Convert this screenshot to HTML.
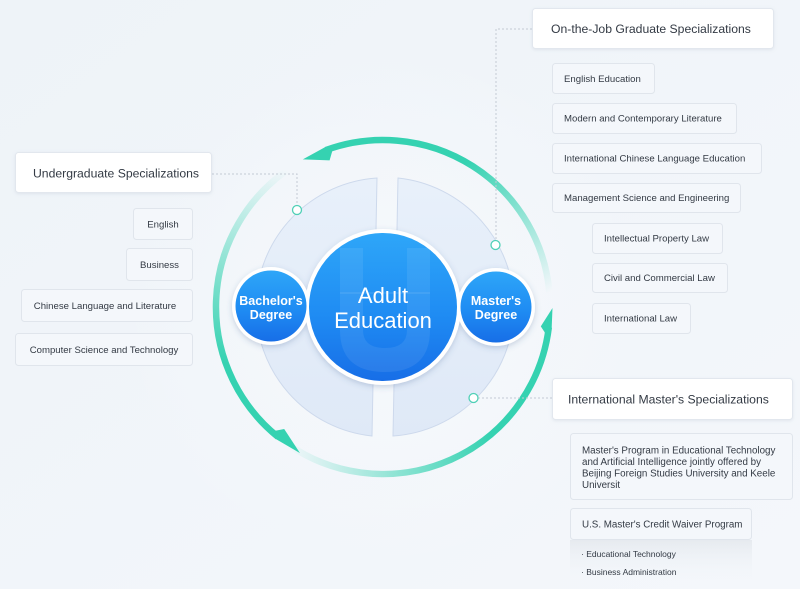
<!DOCTYPE html>
<html><head><meta charset="utf-8">
<style>
html,body{margin:0;padding:0;background:#f1f5f9;}
svg{display:block;}
text{font-family:"Liberation Sans",Arial,sans-serif;}
</style></head>
<body>
<svg width="800" height="589" viewBox="0 0 800 589" xmlns="http://www.w3.org/2000/svg">
<defs>
  <linearGradient id="bg" x1="0" y1="0" x2="1" y2="1">
    <stop offset="0" stop-color="#eef3f8"/>
    <stop offset="1" stop-color="#f4f7fb"/>
  </linearGradient>
  <radialGradient id="glow" cx="383" cy="307" r="260" gradientUnits="userSpaceOnUse">
    <stop offset="0" stop-color="#f6f9fc"/>
    <stop offset="1" stop-color="#f6f9fc" stop-opacity="0"/>
  </radialGradient>
  <linearGradient id="blue" x1="0" y1="0" x2="0" y2="1">
    <stop offset="0" stop-color="#2ea6f8"/>
    <stop offset="0.55" stop-color="#1f8cf3"/>
    <stop offset="1" stop-color="#176ee7"/>
  </linearGradient>
  <linearGradient id="seg" x1="0" y1="0" x2="0" y2="1">
    <stop offset="0" stop-color="#e8f0fa"/>
    <stop offset="1" stop-color="#dfe9f7"/>
  </linearGradient>
  <linearGradient id="gA" gradientUnits="userSpaceOnUse" x1="549.4" y1="292.4" x2="466.5" y2="162.4">
    <stop offset="0" stop-color="#35d2b1" stop-opacity="0"/>
    <stop offset="1" stop-color="#35d2b1" stop-opacity="1"/>
  </linearGradient>
  <linearGradient id="gB" gradientUnits="userSpaceOnUse" x1="287.2" y1="443.8" x2="490.3" y2="434.9">
    <stop offset="0" stop-color="#35d2b1" stop-opacity="0"/>
    <stop offset="1" stop-color="#35d2b1" stop-opacity="1"/>
  </linearGradient>
  <linearGradient id="gC" gradientUnits="userSpaceOnUse" x1="287.2" y1="170.2" x2="226" y2="364">
    <stop offset="0" stop-color="#35d2b1" stop-opacity="0"/>
    <stop offset="1" stop-color="#35d2b1" stop-opacity="1"/>
  </linearGradient>
  <linearGradient id="panel" x1="0" y1="0" x2="0" y2="1">
    <stop offset="0" stop-color="#e6eaef"/>
    <stop offset="1" stop-color="#f1f5f9" stop-opacity="0"/>
  </linearGradient>
  <filter id="sh" x="-20%" y="-30%" width="140%" height="160%">
    <feDropShadow dx="0" dy="1" stdDeviation="1.5" flood-color="#8a9ab0" flood-opacity="0.18"/>
  </filter>
  <filter id="csh" x="-30%" y="-30%" width="160%" height="160%">
    <feDropShadow dx="0" dy="2" stdDeviation="3" flood-color="#3a5f90" flood-opacity="0.25"/>
  </filter>
</defs>

<rect x="0" y="0" width="800" height="589" fill="url(#bg)"/>
<rect x="0" y="0" width="800" height="589" fill="url(#glow)"/>

<!-- ring arrows -->
<path d="M 549.4 292.4 A 167 167 0 0 0 325.9 150.1" fill="none" stroke="url(#gA)" stroke-width="6.5"/>
<polygon points="302.8,159.4 324.9,147.3 332.3,151.0 329.6,160.4" fill="#35d2b1"/>
<path d="M 287.2 443.8 A 167 167 0 0 0 548.8 327.4" fill="none" stroke="url(#gB)" stroke-width="6.5"/>
<polygon points="552.5,308 551.7,327.7 545.0,332.7 540.8,326.4" fill="#35d2b1"/>
<path d="M 287.2 170.2 A 167 167 0 0 0 277.9 436.8" fill="none" stroke="url(#gC)" stroke-width="6.5"/>
<polygon points="300,453.1 276,439.1 275.4,430.8 284.2,429" fill="#35d2b1"/>

<!-- segments -->
<path d="M 377 178 A 129.5 129.5 0 0 0 372 436 Z" fill="url(#seg)" stroke="#cdd9ec" stroke-width="1"/>
<path d="M 398 178 A 129.5 129.5 0 0 1 393 436 Z" fill="url(#seg)" stroke="#cdd9ec" stroke-width="1"/>

<!-- connectors -->
<g fill="none" stroke="#c3cad4" stroke-width="1" stroke-dasharray="2 2">
  <path d="M 212 174 H 297 V 205"/>
  <path d="M 532 29 H 496 V 240"/>
  <path d="M 478 398 H 552"/>
</g>
<g fill="#ffffff" stroke="#4fd0b6" stroke-width="1.3">
  <circle cx="297" cy="210" r="4.5"/>
  <circle cx="495.5" cy="245" r="4.5"/>
  <circle cx="473.5" cy="398" r="4.5"/>
</g>

<!-- main circles -->
<g filter="url(#csh)">
  <circle cx="383" cy="307" r="78" fill="#ffffff"/>
  <circle cx="271" cy="306" r="39" fill="#ffffff"/>
  <circle cx="496" cy="307" r="39" fill="#ffffff"/>
</g>
<circle cx="383" cy="307" r="74" fill="url(#blue)"/>
<circle cx="271" cy="306" r="35.5" fill="url(#blue)"/>
<circle cx="496" cy="307" r="35.5" fill="url(#blue)"/>
<!-- U watermark -->
<path d="M 340 248 H 363 V 330 Q 363 348 385 348 Q 407 348 407 330 V 248 H 430 V 330 Q 430 372 385 372 Q 340 372 340 330 Z" fill="#ffffff" fill-opacity="0.08"/>
<line x1="340" y1="293" x2="430" y2="293" stroke="#ffffff" stroke-opacity="0.08" stroke-width="2"/>

<text x="383" y="303" font-size="22" fill="#ffffff" text-anchor="middle">Adult</text>
<text x="383" y="328" font-size="22" fill="#ffffff" text-anchor="middle">Education</text>
<text x="271" y="305" font-size="12.5" font-weight="bold" fill="#ffffff" text-anchor="middle">Bachelor's</text>
<text x="271" y="319" font-size="12.5" font-weight="bold" fill="#ffffff" text-anchor="middle">Degree</text>
<text x="496" y="305" font-size="12.5" font-weight="bold" fill="#ffffff" text-anchor="middle">Master's</text>
<text x="496" y="319" font-size="12.5" font-weight="bold" fill="#ffffff" text-anchor="middle">Degree</text>

<!-- header boxes -->
<g filter="url(#sh)" fill="#ffffff" stroke="#e2e7ee" stroke-width="1">
  <rect x="15.5" y="152.5" width="196" height="40" rx="3"/>
  <rect x="532.5" y="8.5" width="241" height="40" rx="3"/>
  <rect x="552.5" y="378.5" width="240" height="41" rx="3"/>
</g>
<g font-size="12.2" fill="#333a44">
  <text x="33" y="177.5">Undergraduate Specializations</text>
  <text x="551" y="33">On-the-Job Graduate Specializations</text>
  <text x="568" y="403.5">International Master's Specializations</text>
</g>

<!-- sub boxes -->
<g fill="#f4f7fb" stroke="#e0e5ec" stroke-width="1">
  <rect x="133.5" y="208.5" width="59" height="31" rx="3"/>
  <rect x="126.5" y="248.5" width="66" height="32" rx="3"/>
  <rect x="21.5" y="289.5" width="171" height="32" rx="3"/>
  <rect x="15.5" y="333.5" width="177" height="32" rx="3"/>

  <rect x="552.5" y="63.5" width="102" height="30" rx="3"/>
  <rect x="552.5" y="103.5" width="184" height="30" rx="3"/>
  <rect x="552.5" y="143.5" width="209" height="30" rx="3"/>
  <rect x="552.5" y="183.5" width="188" height="29" rx="3"/>
  <rect x="592.5" y="223.5" width="130" height="30" rx="3"/>
  <rect x="592.5" y="263.5" width="135" height="29" rx="3"/>
  <rect x="592.5" y="303.5" width="98" height="30" rx="3"/>

  <rect x="570.5" y="433.5" width="222" height="66" rx="3"/>
  <rect x="570.5" y="508.5" width="181" height="31" rx="3"/>
</g>
<rect x="570" y="540" width="182" height="40" fill="url(#panel)"/>

<g font-size="9.6" fill="#333a44">
  <text x="163" y="227.5" text-anchor="middle">English</text>
  <text x="159.5" y="268" text-anchor="middle">Business</text>
  <text x="105" y="309" text-anchor="middle">Chinese Language and Literature</text>
  <text x="104" y="353" text-anchor="middle">Computer Science and Technology</text>

  <text x="564" y="82">English Education</text>
  <text x="564" y="121.5">Modern and Contemporary Literature</text>
  <text x="564" y="161.5">International Chinese Language Education</text>
  <text x="564" y="201">Management Science and Engineering</text>
  <text x="604" y="241.5">Intellectual Property Law</text>
  <text x="604" y="281">Civil and Commercial Law</text>
  <text x="604" y="321.5">International Law</text>
</g>
<g font-size="9.8" fill="#333a44">
  <text x="582" y="453.5">Master's Program in Educational Technology</text>
  <text x="582" y="465">and Artificial Intelligence jointly offered by</text>
  <text x="582" y="476.5">Beijing Foreign Studies University and Keele</text>
  <text x="582" y="488">Universit</text>
  <text x="582" y="527.5">U.S. Master's Credit Waiver Program</text>
</g>
<g font-size="8.5" fill="#333a44">
  <text x="581" y="557">·  Educational Technology</text>
  <text x="581" y="575">·  Business Administration</text>
</g>
</svg>
</body></html>
